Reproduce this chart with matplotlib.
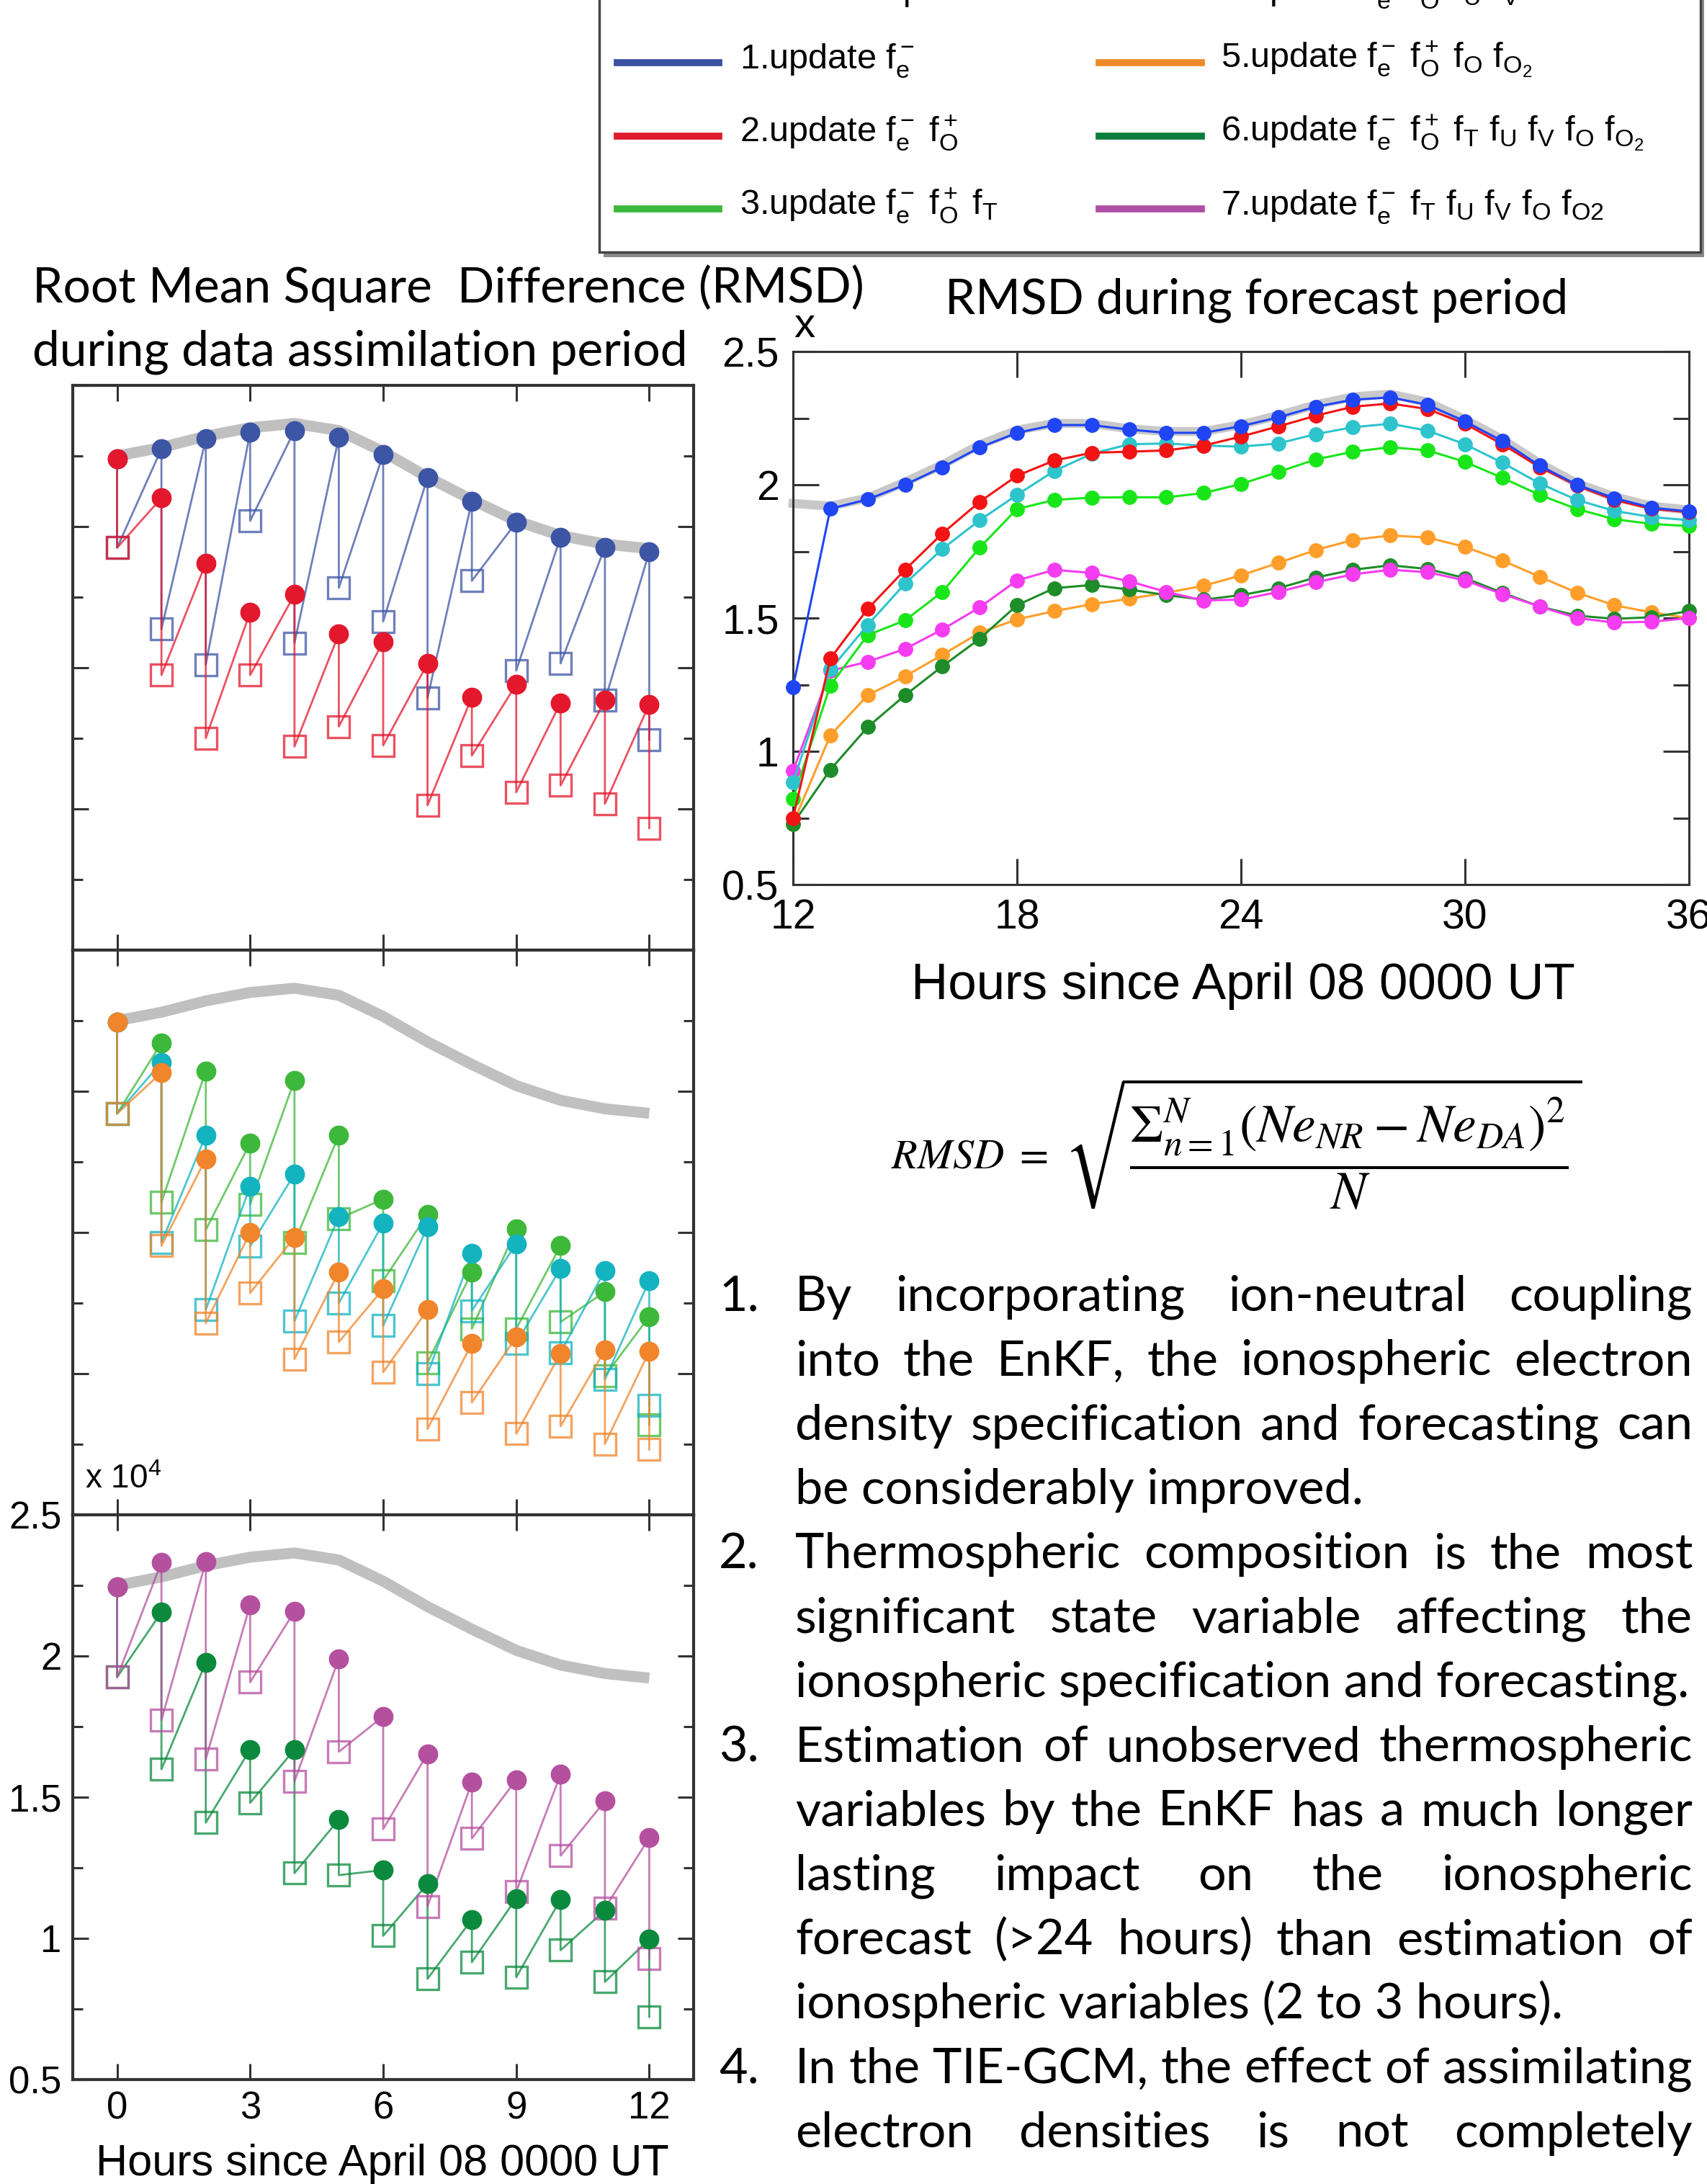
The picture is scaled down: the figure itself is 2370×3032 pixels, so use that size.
import matplotlib
matplotlib.use("Agg")
import matplotlib.pyplot as plt
import numpy as np
from matplotlib.patches import Rectangle
from matplotlib.lines import Line2D
from matplotlib.ticker import MultipleLocator, FuncFormatter

W, H, DPI = 2370, 3032, 100

plt.rcParams['font.family'] = ['Liberation Sans', 'DejaVu Sans']
plt.rcParams['mathtext.fontset'] = 'custom'
plt.rcParams['mathtext.rm'] = 'Liberation Sans'
plt.rcParams['mathtext.it'] = 'Liberation Sans:italic'
plt.rcParams['mathtext.bf'] = 'Liberation Sans:bold'
plt.rcParams['mathtext.sf'] = 'Liberation Sans'

# ---------------- data assimilation period (hours 0-12), units of 1e4
da_hours = np.arange(0, 13)
control_da = [2.25, 2.28, 2.32, 2.35, 2.365, 2.34, 2.265, 2.175, 2.095, 2.02, 1.968, 1.938, 1.922]

# circle = value before the update, square = value after the update
prior1 = [2.24, 2.275, 2.31, 2.334, 2.34, 2.316, 2.256, 2.174, 2.09, 2.015, 1.963, 1.927, 1.91]
post1 = [1.925, 1.637, 1.511, 2.02, 1.588, 1.783, 1.664, 1.393, 1.808, 1.49, 1.515, 1.384, 1.246]
prior2 = [2.24, 2.101, 1.87, 1.697, 1.759, 1.62, 1.593, 1.515, 1.396, 1.441, 1.376, 1.384, 1.371]
post2 = [1.925, 1.474, 1.251, 1.474, 1.221, 1.292, 1.225, 1.013, 1.189, 1.059, 1.083, 1.018, 0.932]
prior3 = [2.245, 2.171, 2.072, 1.817, 2.039, 1.845, 1.618, 1.564, 1.36, 1.513, 1.453, 1.29, 1.202]
post3 = [1.921, 1.607, 1.509, 1.60, 1.464, 1.549, 1.33, 1.039, 1.159, 1.159, 1.183, 0.992, 0.818]
prior4 = [2.245, 2.102, 1.844, 1.664, 1.707, 1.557, 1.533, 1.52, 1.426, 1.46, 1.373, 1.366, 1.33]
post4 = [1.921, 1.464, 1.226, 1.451, 1.186, 1.25, 1.17, 0.999, 1.223, 1.108, 1.075, 0.979, 0.889]
prior5 = [2.245, 2.066, 1.761, 1.5, 1.483, 1.36, 1.30, 1.226, 1.106, 1.13, 1.072, 1.083, 1.079]
post5 = [1.921, 1.453, 1.179, 1.286, 1.052, 1.112, 1.005, 0.804, 0.898, 0.787, 0.814, 0.751, 0.731]
prior6 = [2.244, 2.155, 1.977, 1.669, 1.669, 1.421, 1.242, 1.193, 1.067, 1.141, 1.138, 1.099, 0.997]
post6 = [1.925, 1.599, 1.41, 1.48, 1.231, 1.224, 1.009, 0.857, 0.916, 0.862, 0.958, 0.846, 0.722]
prior7 = [2.244, 2.332, 2.334, 2.182, 2.158, 1.991, 1.786, 1.654, 1.553, 1.561, 1.581, 1.486, 1.356]
post7 = [1.925, 1.773, 1.635, 1.907, 1.556, 1.661, 1.387, 1.113, 1.354, 1.165, 1.293, 1.107, 0.929]

# ---------------- forecast period (hours 12-36)
fc_hours = np.arange(12, 37)
control_fc = [1.93, 1.92, 1.95, 2.01, 2.075, 2.15, 2.205, 2.23, 2.23, 2.21, 2.2, 2.2, 2.225,
              2.26, 2.30, 2.33, 2.34, 2.31, 2.245, 2.17, 2.08, 2.005, 1.955, 1.92, 1.905]
fc1 = [1.24, 1.91, 1.945, 2.0, 2.066, 2.14, 2.195, 2.224, 2.224, 2.207, 2.195, 2.195, 2.22,
       2.253, 2.293, 2.319, 2.328, 2.30, 2.238, 2.164, 2.072, 2.0, 1.95, 1.914, 1.90]
fc2 = [0.75, 1.348, 1.534, 1.681, 1.817, 1.936, 2.034, 2.091, 2.12, 2.124, 2.129, 2.147, 2.181,
       2.219, 2.259, 2.293, 2.305, 2.284, 2.229, 2.152, 2.066, 1.997, 1.943, 1.91, 1.897]
fc3 = [0.822, 1.247, 1.436, 1.491, 1.598, 1.764, 1.909, 1.943, 1.952, 1.953, 1.953, 1.969, 2.003,
       2.048, 2.095, 2.124, 2.141, 2.129, 2.086, 2.026, 1.962, 1.909, 1.871, 1.853, 1.845]
fc4 = [0.883, 1.307, 1.474, 1.629, 1.759, 1.867, 1.962, 2.052, 2.116, 2.152, 2.155, 2.147, 2.143,
       2.155, 2.19, 2.216, 2.229, 2.203, 2.152, 2.083, 2.005, 1.943, 1.902, 1.879, 1.867]
fc5 = [0.728, 1.06, 1.21, 1.281, 1.362, 1.445, 1.495, 1.526, 1.552, 1.572, 1.595, 1.621, 1.66,
       1.707, 1.755, 1.793, 1.81, 1.802, 1.767, 1.716, 1.655, 1.595, 1.548, 1.521, 1.50]
fc6 = [0.728, 0.931, 1.091, 1.21, 1.319, 1.422, 1.548, 1.612, 1.624, 1.607, 1.586, 1.569, 1.586,
       1.612, 1.652, 1.681, 1.698, 1.684, 1.65, 1.595, 1.543, 1.509, 1.497, 1.503, 1.526]
fc7 = [0.926, 1.302, 1.336, 1.384, 1.457, 1.54, 1.641, 1.681, 1.669, 1.638, 1.598, 1.566, 1.569,
       1.598, 1.634, 1.664, 1.681, 1.672, 1.641, 1.59, 1.543, 1.50, 1.483, 1.486, 1.50]

legend_left = ['Control Experiment',
               r'1.update $\mathrm{f_e^-}$',
               r'2.update $\mathrm{f_e^-\ f_O^+}$',
               r'3.update $\mathrm{f_e^-\ f_O^+\ f_T}$']
legend_right = [r'4.update $\mathrm{f_e^-\ f_O^+\ f_U\ f_V}$',
                r'5.update $\mathrm{f_e^-\ f_O^+\ f_O\ f_{O_2}}$',
                r'6.update $\mathrm{f_e^-\ f_O^+\ f_T\ f_U\ f_V\ f_O\ f_{O_2}}$',
                r'7.update $\mathrm{f_e^-\ f_T\ f_U\ f_V\ f_O\ f_{O2}}$']
legend_left_colors = ['#bdbdbd', '#3a50a0', '#e01b2f', '#3cb83a']
legend_right_colors = ['#1ab3bf', '#ef8a2b', '#0c7d3b', '#b04fa6']

conclusions = [
    ["By incorporating ion-neutral coupling",
     "into the EnKF, the ionospheric electron",
     "density specification and forecasting can",
     "be considerably improved."],
    ["Thermospheric composition is the most",
     "significant state variable affecting the",
     "ionospheric specification and forecasting."],
    ["Estimation of unobserved thermospheric",
     "variables by the EnKF has a much longer",
     "lasting impact on the ionospheric",
     "forecast (>24 hours) than estimation of",
     "ionospheric variables (2 to 3 hours)."],
    ["In the TIE-GCM, the effect of assimilating",
     "electron densities is not completely"],
]

fig = plt.figure(figsize=(W / DPI, H / DPI), dpi=DPI)
fig.patch.set_facecolor('white')
renderer = fig.canvas.get_renderer()


def px_axes(x0, y0, x1, y1):
    return fig.add_axes([x0 / W, 1 - y1 / H, (x1 - x0) / W, (y1 - y0) / H])


def px_text(x, y, s, **kw):
    return fig.text(x / W, 1 - y / H, s, **kw)


def text_width(s, size, family):
    t = fig.text(0, 0, s, fontsize=size, family=family)
    w = t.get_window_extent(renderer).width
    t.remove()
    return w


fmt = FuncFormatter(lambda v, p: f'{v:g}')

# ---------------- left column: three assimilation panels
panel_series = [
    [(prior1, post1, '#3d55a5'), (prior2, post2, '#e3182d')],
    [(prior3, post3, '#3db83a'), (prior4, post4, '#13b3bf'), (prior5, post5, '#f0852b')],
    [(prior6, post6, '#0b8a3e'), (prior7, post7, '#b5509f')],
]
panel_tops = [535, 1319, 2103]
for i, (top, series) in enumerate(zip(panel_tops, panel_series)):
    ax = px_axes(101, top, 963, top + 784)
    ax.plot(da_hours, control_da, color='#c0c0c0', lw=11, solid_capstyle='butt',
            solid_joinstyle='round', zorder=1)
    for prior, post, c in series:
        xs = np.repeat(da_hours, 2)
        ys = np.column_stack([prior, post]).ravel()
        ax.plot(xs, ys, color=c, lw=2, alpha=0.75, zorder=2)
        ax.plot(da_hours, post, ls='none', marker='s', ms=22, mfc='none', mec=c,
                mew=2.4, alpha=0.75, zorder=2)
        ax.plot(da_hours, prior, ls='none', marker='o', ms=19, color=c, zorder=3)
    ax.set_xlim(-1, 13)
    ax.set_ylim(0.5, 2.5)
    ax.set_xticks([0, 3, 6, 9, 12])
    ax.yaxis.set_major_locator(MultipleLocator(0.5))
    ax.yaxis.set_minor_locator(MultipleLocator(0.25))
    ax.yaxis.set_major_formatter(fmt)
    ax.tick_params(which='both', direction='in', top=True, right=True, width=2.2,
                   color='#333333', labelsize=38, pad=11)
    ax.tick_params(which='major', length=16)
    ax.tick_params(axis='y', which='minor', length=10)
    for sp in ax.spines.values():
        sp.set_linewidth(3)
        sp.set_color('#333333')
    if i < 2:
        ax.tick_params(labelbottom=False, labelleft=False)
    else:
        ax.set_xlabel('Hours since April 08 0000 UT', fontsize=44)
        ax.xaxis.set_label_coords(0.499, -0.113)
        ax.xaxis.label.set_va('top')

px_text(118, 2066, r'x 10$^4$', fontsize=33)

# ---------------- right: forecast period
axf = px_axes(1101, 488, 2345, 1228)
axf.plot(fc_hours, control_fc, color='#c8c8c8', lw=9, zorder=1, clip_on=False,
         solid_joinstyle='round')
fc_series = [(fc5, '#ff9e2a'), (fc6, '#1f8c2a'), (fc7, '#f53cf0'), (fc3, '#19e619'),
             (fc4, '#2ec4cc'), (fc2, '#f21414'), (fc1, '#1f45f5')]
for vals, c in fc_series:
    axf.plot(fc_hours, vals, color=c, lw=2.2, marker='o', ms=14, clip_on=False, zorder=3)
axf.set_xlim(12, 36)
axf.set_ylim(0.5, 2.5)
axf.set_xticks([12, 18, 24, 30, 36])
axf.yaxis.set_major_locator(MultipleLocator(0.5))
axf.yaxis.set_minor_locator(MultipleLocator(0.25))
axf.yaxis.set_major_formatter(fmt)
axf.tick_params(which='both', direction='in', top=True, right=True, width=2.2,
                color='#333333', labelsize=41)
axf.tick_params(which='major', length=26)
axf.tick_params(axis='y', which='minor', length=16)
axf.tick_params(axis='x', pad=14)
axf.tick_params(axis='y', pad=14)
for sp in axf.spines.values():
    sp.set_linewidth(2.2)
    sp.set_color('#333333')
axf.set_xlabel('Hours since April 08 0000 UT', fontsize=51)
axf.xaxis.set_label_coords(0.502, -0.146)
axf.xaxis.label.set_va('top')
px_text(1102, 468, 'x', fontsize=42)

# ---------------- legend box (top right)
fig.add_artist(Rectangle((838 / W, 1 - 357 / H), (2366 - 838) / W, 400 / H,
                         transform=fig.transFigure, fc='#8a8a8a', ec='none', zorder=0))
fig.add_artist(Rectangle((832 / W, 1 - 350 / H), (2361 - 832) / W, 400 / H,
                         transform=fig.transFigure, fc='white', ec='#444444', lw=2.5, zorder=1))
row_base = [0, 95, 197, 298]
for k in range(4):
    yb = row_base[k]
    for x0, x1, xt, lab, c in [(857, 998, 1027, legend_left[k], legend_left_colors[k]),
                               (1526, 1668, 1695, legend_right[k], legend_right_colors[k])]:
        fig.add_artist(Line2D([x0 / W, x1 / W], [1 - (yb - 8) / H] * 2, transform=fig.transFigure,
                              color=c, lw=7, zorder=2))
        px_text(xt, yb, lab, fontsize=35, va='baseline', zorder=3)

# ---------------- titles (Calibri-like)
body_font = ['Lato', 'DejaVu Sans']
t1 = "Root Mean Square  Difference (RMSD)"
s_title = 40 * 1152 / text_width(t1, 40, body_font)
px_text(45, 420, t1, fontsize=s_title, family=body_font, va='baseline')
px_text(45, 507, "during data assimilation period", fontsize=s_title, family=body_font, va='baseline')
t2 = "RMSD during forecast period"
s_t2 = 40 * 865 / text_width(t2, 40, body_font)
px_text(1312, 436, t2, fontsize=s_t2, family=body_font, va='baseline')

# ---------------- equation
px_text(1237, 1607, r'$RMSD\ =$', fontsize=42, math_fontfamily='stix', va='center')
px_text(1478, 1588, r'$\sqrt{\dfrac{\Sigma_{n=1}^{N}(Ne_{NR}-Ne_{DA})^{2}}{N}}$',
        fontsize=53, math_fontfamily='stix', va='center')

# ---------------- numbered conclusions, justified
x_num, x_txt, x_right = 998, 1104, 2350
ratios = []
for item in conclusions:
    for j, line in enumerate(item):
        target = 1261 if line.endswith('forecasting.') else (x_right - x_txt)
        ratios.append(target / text_width(line, 40, body_font))
s_body = 40 * min(ratios)

k = 0
for n, item in enumerate(conclusions):
    for j, line in enumerate(item):
        yb = 1820 + k * 89.3
        if j == 0:
            px_text(x_num, yb, f'{n + 1}.', fontsize=s_body, family=body_font, va='baseline')
        last = (j == len(item) - 1) and n < 3
        words = line.split(' ')
        if last:
            px_text(x_txt, yb, line, fontsize=s_body, family=body_font, va='baseline')
        else:
            ws = [text_width(w, s_body, body_font) for w in words]
            gap = (x_right - x_txt - sum(ws)) / (len(words) - 1)
            x = x_txt
            for w, wd in zip(words, ws):
                px_text(x, yb, w, fontsize=s_body, family=body_font, va='baseline')
                x += wd + gap
        k += 1

fig.savefig('out.png', dpi=DPI)
